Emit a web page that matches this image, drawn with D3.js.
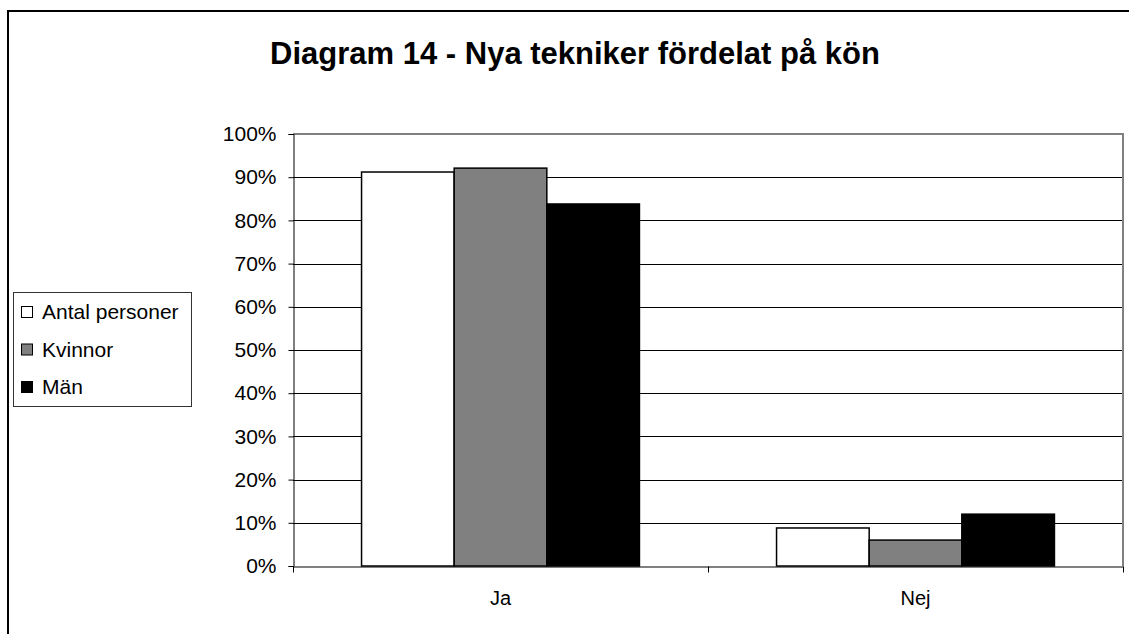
<!DOCTYPE html>
<html>
<head>
<meta charset="utf-8">
<script src="https://cdn.jsdelivr.net/npm/d3@7"></script>
<style>
  body { margin: 0; background: #fff; }
  svg { font-family: "Liberation Sans", Arial, sans-serif; }
</style>
</head>
<body>
<svg id="chart" width="1129" height="634"></svg>
<script>
'use strict';

const title = 'Diagram 14 - Nya tekniker fördelat på kön';
const categories = ['Ja', 'Nej'];
const series = ['Antal personer', 'Kvinnor', 'Män'];
const colors = ['#ffffff', '#808080', '#000000'];
const values = [
	[0.912, 0.088],
	[0.921, 0.060],
	[0.838, 0.120]
];
const ticks = [0, 0.1, 0.2, 0.3, 0.4, 0.5, 0.6, 0.7, 0.8, 0.9, 1];

const svg = d3.select('#chart');
const plot = {left: 293, right: 1123, top: 134, bottom: 566};

// outer frame
svg.append('rect')
	.attr('x', 8).attr('y', 11)
	.attr('width', 1140).attr('height', 640)
	.attr('fill', 'none').attr('stroke', '#000').attr('stroke-width', 2);

svg.append('text')
	.attr('x', 575).attr('y', 64)
	.attr('text-anchor', 'middle')
	.attr('font-size', 31).attr('font-weight', 'bold')
	.text(title);

const y = d3.scaleLinear().domain([0, 1]).range([plot.bottom, plot.top]);
const x0 = d3.scaleBand().domain(categories).range([plot.left, plot.right]);
const x1 = d3.scaleBand().domain(series)
	.range([0, x0.bandwidth()]).paddingOuter(0.74);

// gridlines
svg.append('g').selectAll('line')
	.data(ticks.slice(1, -1))
	.join('line')
		.attr('x1', plot.left).attr('x2', plot.right)
		.attr('y1', d => Math.round(y(d)) + 0.5).attr('y2', d => Math.round(y(d)) + 0.5)
		.attr('stroke', '#000');

// plot border top/right
svg.append('path')
	.attr('d', 'M' + plot.left + ',' + plot.top + 'H' + plot.right + 'V' + plot.bottom)
	.attr('fill', 'none').attr('stroke', '#808080').attr('stroke-width', 2);

// bars
const rows = [];
series.forEach((s, si) => {
	categories.forEach((c, ci) => {
		rows.push({s, c, v: values[si][ci], color: colors[si]});
	});
});
svg.append('g').selectAll('rect')
	.data(rows)
	.join('rect')
		.attr('x', d => x0(d.c) + x1(d.s))
		.attr('y', d => y(d.v))
		.attr('width', x1.bandwidth())
		.attr('height', d => y(0) - y(d.v))
		.attr('fill', d => d.color)
		.attr('stroke', '#000').attr('stroke-width', 1.5);

// y axis
const yAxis = d3.axisLeft(y)
	.tickValues(ticks)
	.tickFormat(d3.format('.0%'))
	.tickSize(5).tickPadding(12);
const gy = svg.append('g')
	.attr('transform', 'translate(' + (plot.left + 0.5) + ',0)')
	.call(yAxis);
gy.selectAll('text').attr('font-size', 21).attr('fill', '#000').attr('font-family', null);
gy.selectAll('line, path').attr('stroke', '#000');

// x axis
const xAxis = d3.axisBottom(x0).tickSize(0).tickPadding(24);
const gx = svg.append('g')
	.attr('transform', 'translate(0,' + (plot.bottom + 0.5) + ')')
	.call(xAxis);
gx.select('.domain').attr('stroke', '#000');
gx.selectAll('text').attr('font-size', 20).attr('fill', '#000').attr('font-family', null);
gx.selectAll('.sep')
	.data([plot.left, x0('Nej'), plot.right])
	.join('line')
		.attr('class', 'sep')
		.attr('x1', d => d + 0.5).attr('x2', d => d + 0.5)
		.attr('y1', 0).attr('y2', 6)
		.attr('stroke', '#000');

// legend
const legend = svg.append('g').attr('transform', 'translate(13,292)');
legend.append('rect')
	.attr('x', 0.5).attr('y', 0.5)
	.attr('width', 178).attr('height', 114)
	.attr('fill', '#fff').attr('stroke', '#333');
const item = legend.selectAll('g.item')
	.data(series)
	.join('g')
		.attr('class', 'item')
		.attr('transform', (d, i) => 'translate(0,' + (20 + i * 37.5) + ')');
item.append('rect')
	.attr('x', 8.5).attr('y', -5.5)
	.attr('width', 11).attr('height', 11)
	.attr('fill', (d, i) => colors[i])
	.attr('stroke', '#000');
item.append('text')
	.attr('x', 29).attr('dy', '0.35em')
	.attr('font-size', 21)
	.text(d => d);
</script>
</body>
</html>
